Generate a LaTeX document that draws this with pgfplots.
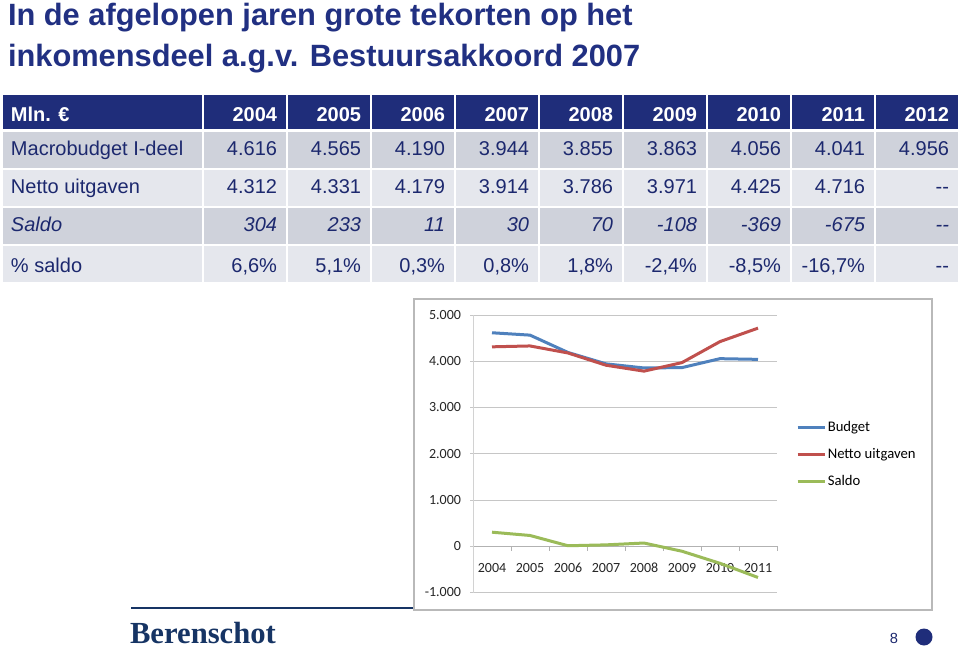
\documentclass[border=0pt]{standalone}
\usepackage{fontspec}
\setmainfont{Liberation Sans}
\newfontfamily\titlefont{Liberation Sans}
\newfontfamily\calibri{Carlito}
\newfontfamily\logofont{Liberation Serif}
\usepackage{pgfplots}
\pgfplotsset{compat=1.18}
\definecolor{hdr}{RGB}{31,45,122}
\definecolor{titlenavy}{RGB}{33,48,130}
\definecolor{rowdark}{RGB}{207,210,219}
\definecolor{rowlight}{RGB}{229,231,237}
\definecolor{txt}{RGB}{28,40,110}
\definecolor{logo}{RGB}{22,52,100}
\definecolor{exblue}{RGB}{79,129,189}
\definecolor{exred}{RGB}{192,80,77}
\definecolor{exgreen}{RGB}{155,187,89}
\begin{document}
\begin{tikzpicture}
\useasboundingbox (0,0) rectangle (719.25pt,-486pt);
\fill[white] (0,0) rectangle (719.25pt,-486pt);
\begin{scope}[x=0.75pt,y=-0.75pt, every node/.style={inner sep=0pt, outer sep=0pt}]
% title
\node[anchor=base west, text=titlenavy, font=\titlefont\bfseries\fontsize{23.1pt}{27pt}\selectfont] at (8,26) {In de afgelopen jaren grote tekorten op het};
\node[anchor=base west, text=titlenavy, font=\titlefont\bfseries\fontsize{23.1pt}{27pt}\selectfont] at (8,67) {inkomensdeel a.g.v. Bestuursakkoord 2007};
% table cells
\fill[hdr] (3,95) rectangle (202,129);
\foreach \k in {0,...,8} {\fill[hdr] ({204+84*\k},95) rectangle ({286+84*\k},129);}
\foreach \ya/\yb/\cc in {132/168/rowdark, 170/206/rowlight, 208/244/rowdark, 246/282/rowlight} {
  \fill[\cc] (3,\ya) rectangle (202,\yb);
  \foreach \k in {0,...,8} {\fill[\cc] ({204+84*\k},\ya) rectangle ({286+84*\k},\yb);}
}
\begin{scope}[every node/.append style={font=\fontsize{15pt}{18pt}\selectfont, text=txt}]
\node[anchor=base west, text=white, font=\fontsize{15pt}{18pt}\selectfont\bfseries] at (11,122) {Mln. €};
\foreach \yr [count=\k from 0] in {2004,2005,2006,2007,2008,2009,2010,2011,2012}
  \node[anchor=base east, text=white, font=\fontsize{15pt}{18pt}\selectfont\bfseries] at ({277+84*\k},122) {\yr};
\node[anchor=base west] at (11,156) {Macrobudget I-deel};
\foreach \v [count=\k from 0] in {4.616,4.565,4.190,3.944,3.855,3.863,4.056,4.041,4.956}
  \node[anchor=base east] at ({277+84*\k},156) {\v};
\node[anchor=base west] at (11,194) {Netto uitgaven};
\foreach \v [count=\k from 0] in {4.312,4.331,4.179,3.914,3.786,3.971,4.425,4.716,{-\kern0pt-}}
  \node[anchor=base east] at ({277+84*\k},194) {\v};
\node[anchor=base west, font=\fontsize{15pt}{18pt}\selectfont\itshape] at (11,232) {Saldo};
\foreach \v [count=\k from 0] in {304,233,11,30,70,-108,-369,-675,{-\kern0pt-}}
  \node[anchor=base east, font=\fontsize{15pt}{18pt}\selectfont\itshape] at ({277+84*\k},232) {\v};
\node[anchor=base west] at (11,273) {\% saldo};
\foreach \v [count=\k from 0] in {{6,6\%},{5,1\%},{0,3\%},{0,8\%},{1,8\%},{-2,4\%},{-8,5\%},{-16,7\%},{-\kern0pt-}}
  \node[anchor=base east] at ({277+84*\k},273) {\v};
\end{scope}
% footer
\draw[logo, line width=1.1pt] (131,608) -- (414,608);
\node[anchor=base west, text=logo, font=\logofont\bfseries\fontsize{23pt}{26pt}\selectfont] at (130,643) {Berenschot};
\node[anchor=base east, text=txt, font=\fontsize{11pt}{13pt}\selectfont] at (898,643) {8};
\fill[hdr] (924,637) circle (8.5);
% chart frame
\fill[white] (414,299) rectangle (932,610);
\draw[gray!55, line width=0.9pt] (414,299) rectangle (932,610);
\end{scope}
\begin{axis}[
  at={(354.75pt,-444.375pt)}, anchor=south west,
  scale only axis, width=228pt, height=208.125pt,
  xmin=-0.5, xmax=7.5, ymin=-1000, ymax=5000,
  axis x line=middle, axis y line=left,
  every inner x axis line/.append style={-},
  every outer y axis line/.append style={-},
  x axis line style={draw=gray!60, line width=0.75pt, -},
  y axis line style={draw=gray!35, line width=0.75pt, -},
  hide obscured x ticks=false, hide obscured y ticks=false,
  xtick={0,1,2,3,4,5,6,7},
  xticklabels={2004,2005,2006,2007,2008,2009,2010,2011},
  minor xtick={-0.5,0.5,1.5,2.5,3.5,4.5,5.5,6.5,7.5},
  every major x tick/.append style={draw=none},
  minor x tick style={draw=gray!60, line width=0.75pt},
  minor tick length=3.5pt,
  major tick length=2.25pt,
  tick align=outside,
  ytick={-1000,0,1000,2000,3000,4000,5000},
  yticklabels={-1.000,0,1.000,2.000,3.000,4.000,5.000},
  ytick style={draw=gray!45, line width=0.75pt},
  ymajorgrids, major grid style={draw=gray!45, line width=0.75pt},
  tick label style={font=\calibri\fontsize{10.5pt}{12pt}\selectfont, text=black!85},
  yticklabel style={xshift=-3.2pt},
  xticklabel style={anchor=north, text height=6.9pt, text depth=0pt, yshift=-7.2pt},
  legend style={at={(1.062,0.497)}, anchor=west, draw=none, fill=none, inner sep=0pt,
    font=\calibri\fontsize{11pt}{13pt}\selectfont, row sep=8.4pt,
    nodes={inner sep=1pt, text height=7.7pt, text depth=2.2pt}},
  legend image code/.code={\draw[#1] (0pt,0pt) -- (20.5pt,0pt);},
  legend cell align=left,
]
\addplot[exblue, line width=2.25pt, line join=round] coordinates {(0,4616) (1,4565) (2,4190) (3,3944) (4,3855) (5,3863) (6,4056) (7,4041)};
\addplot[exred, line width=2.25pt, line join=round] coordinates {(0,4312) (1,4331) (2,4179) (3,3914) (4,3786) (5,3971) (6,4425) (7,4716)};
\addplot[exgreen, line width=2.25pt, line join=round] coordinates {(0,304) (1,233) (2,11) (3,30) (4,70) (5,-108) (6,-369) (7,-675)};
\legend{Budget, Netto uitgaven, Saldo}
\end{axis}
\end{tikzpicture}
\end{document}
